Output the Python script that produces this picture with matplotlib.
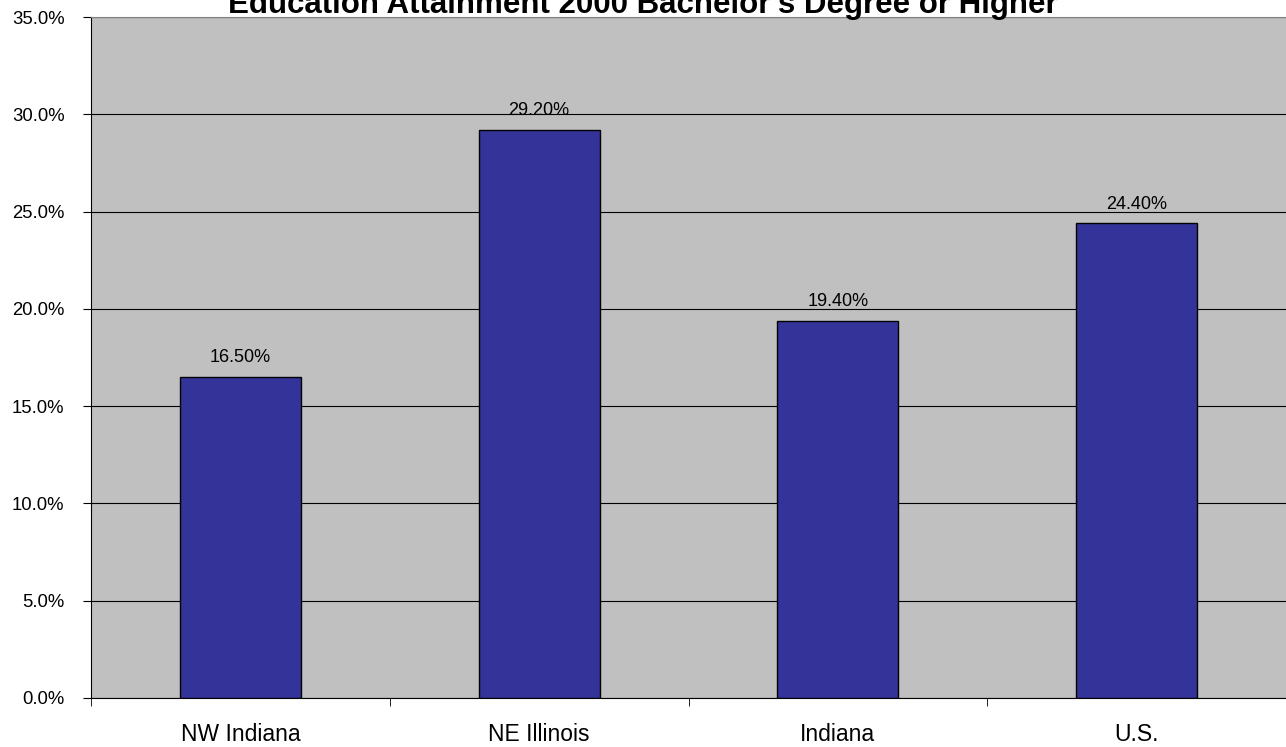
import matplotlib
matplotlib.use('Agg')
from matplotlib import pyplot as plt
import numpy as np

plt.rcParams['font.family'] = ['Liberation Sans', 'DejaVu Sans']

regions = ['NW Indiana', 'NE Illinois', 'Indiana', 'U.S.']
share = [16.5, 29.2, 19.4, 24.4]
yticks = np.arange(0, 35.1, 5)

fig = plt.figure(figsize=(12.86, 7.47), dpi=100)
ax = fig.add_axes([91/1286, 49/747, 1195/1286, 681/747])
ax.set_facecolor('#C0C0C0')

x = np.arange(len(regions))
bars = ax.bar(x, share, width=0.405, color='#333399', edgecolor='black', linewidth=1, zorder=3)
for b, v in zip(bars, share):
    ax.text(b.get_x() + b.get_width()/2, v + 0.55, '%.2f%%' % v,
            ha='center', va='bottom', fontsize=13, zorder=4)

ax.set_xlim(-0.5, 3.5)
ax.set_ylim(0, 35)
ax.set_yticks(yticks)
ax.set_yticklabels(['%.1f%%' % t for t in yticks], fontsize=13.3)
ax.yaxis.grid(True, color='black', linewidth=0.8, zorder=1)
ax.set_axisbelow(True)

# category labels centred, tick marks on the boundaries
ax.set_xticks(x)
ax.set_xticklabels(regions, fontsize=16.5)
ax.tick_params(axis='x', length=0, pad=18)
ax.set_xticks(np.arange(-0.5, 3.6, 1), minor=True)
ax.tick_params(axis='x', which='minor', length=6, direction='out', color='black')
ax.tick_params(axis='y', length=6, direction='out', pad=13)

ax.spines['top'].set_color('#808080')
ax.spines['right'].set_visible(False)
ax.spines['left'].set_color('black')
ax.spines['bottom'].set_color('black')

fig.text(0.5, 1.0 - 13/747, "Education Attainment 2000 Bachelor's Degree or Higher",
         ha='center', va='baseline', fontsize=22.5, fontweight='bold')

fig.savefig('out.png', dpi=100)
